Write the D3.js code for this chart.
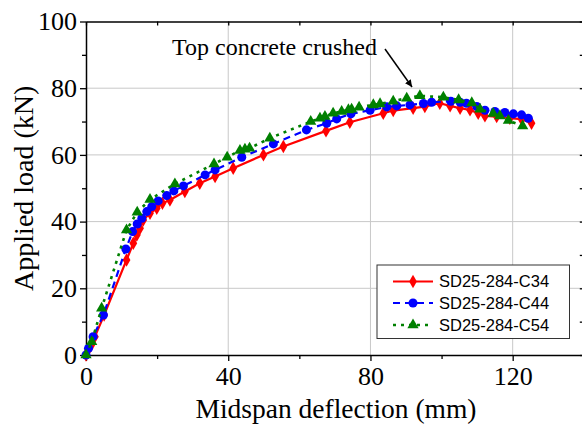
<!DOCTYPE html>
<html>
<head>
<meta charset="utf-8">
<script src="https://cdn.jsdelivr.net/npm/d3@7"></script>
<style>
html,body{margin:0;padding:0;background:#fff;}
svg{display:block;}
</style>
</head>
<body>
<svg id="chart" width="582" height="427"></svg>
<script>
// ---- data ----
const seriesNames = ["SD25-284-C34", "SD25-284-C44", "SD25-284-C54"];
const xTicks = [0, 40, 80, 120];
const yTicks = [0, 20, 40, 60, 80, 100];
const annotationText = "Top concrete crushed";
const xTitle = "Midspan deflection (mm)";
const yTitle = "Applied load (kN)";

const c34 = [[0,0],[0.6,1.5],[1.5,3],[2.5,5.5],[5.1,12],[11.4,28.5],[13.3,33.5],[14.3,36],[15.2,38],[16.1,40.5],[18,42.5],[19.9,44],[21.5,45.5],[23.6,46.5],[27.8,49],[32,51.5],[36.3,53.5],[41.4,56],[49.9,60],[55.5,62.5],[67.5,67.2],[74.2,69.8],[83.6,72.5],[86.4,73.3],[92,74],[95.3,74.5],[99.5,75.5],[102.4,74.7],[105.2,74],[108,73.5],[110.3,72.5],[112.2,71.7],[115.5,71.5],[119.2,71],[122.5,70.7],[125.3,69.5]];
const c44 = [[0,0],[0.7,2],[2,5.5],[4.9,12],[11.2,31.8],[13.1,37],[14.4,39.3],[15.7,41],[17.1,43],[18.5,44.5],[20.3,46.2],[22.7,47.8],[24.7,49.2],[27.4,50.7],[33.5,54],[36.3,55.5],[43.8,59.3],[52.7,63.3],[62,67.5],[67.7,69.5],[70.5,70.8],[74.5,72.3],[79.9,73.4],[84.6,74.4],[87.4,74.7],[91.1,75],[94.9,75.4],[97.2,75.8],[102.6,76.1],[105.2,75.8],[107,75.5],[109.9,74.5],[112.2,73.4],[115,73],[117.8,72.7],[120.2,72.3],[122.5,72],[124.4,71]];
const c54 = [[0,0],[1.6,4],[4.4,14],[11.4,37.5],[14.4,42.8],[18,46.6],[25,51.3],[36,57.3],[39.7,59.3],[43.3,61.3],[44.7,61.7],[46,62],[51.7,65],[63.2,70],[65.8,71],[67.2,71.5],[69.5,72.5],[71.9,73],[73.8,73.5],[74.7,73.7],[76.8,74.3],[80.8,75],[82.7,75.3],[86.4,76.1],[90.2,77],[93.9,77.7],[100.5,77.3],[104.8,76.5],[108.5,75.6],[110.8,73.7],[114.5,72.4],[116.4,71.7],[118.8,70.3],[122.8,68.7]];

// ---- styles ----
const seriesStyle = [
  {data: c34, color: "#ff0000", dash: null, width: 2.2, sym: d3.symbolDiamond, size: 52},
  {data: c44, color: "#0000ff", dash: "7,5", width: 2.2, sym: d3.symbolCircle, size: 64},
  {data: c54, color: "#008000", dash: "3,5", width: 2.6, sym: d3.symbolTriangle, size: 55}
];

const svg = d3.select("#chart");
const L = 86, R = 583.8, T = 21.5, B = 355;
const x = d3.scaleLinear().domain([0, 140]).range([L, R]);
const y = d3.scaleLinear().domain([0, 100]).range([B, T]);
const serif = "'Liberation Serif','Times New Roman',Times,serif";
const sans = "'Liberation Sans',Arial,Helvetica,sans-serif";

// gridlines
const g = svg.append("g");
g.selectAll("line.gx").data([40, 80, 120]).enter().append("line")
  .attr("x1", d => x(d)).attr("x2", d => x(d)).attr("y1", T).attr("y2", B)
  .attr("stroke", "#c8c8c8").attr("stroke-width", 1);
g.selectAll("line.gy").data([20, 40, 60, 80]).enter().append("line")
  .attr("y1", d => y(d)).attr("y2", d => y(d)).attr("x1", L).attr("x2", R)
  .attr("stroke", "#c8c8c8").attr("stroke-width", 1);

// axes
const xMinor = d3.range(20, 141, 40);
const yMinor = d3.range(10, 100, 20);

function styleAxis(sel) {
  sel.select(".domain").attr("stroke", "#000").attr("stroke-width", 1.5);
  sel.selectAll(".tick line").attr("stroke", "#000").attr("stroke-width", 1.3);
}

const xAxis = svg.append("g").attr("transform", `translate(0,${B})`)
  .call(d3.axisBottom(x).tickValues(xTicks).tickSize(6).tickSizeOuter(0).tickPadding(6).tickFormat(d3.format("d")));
styleAxis(xAxis);
xAxis.selectAll("text").attr("font-family", serif).attr("font-size", 26).attr("fill", "#000");
svg.append("g").attr("transform", `translate(0,${B})`)
  .call(d3.axisBottom(x).tickValues(xMinor).tickSize(4).tickSizeOuter(0).tickFormat(""))
  .call(s => { s.select(".domain").remove(); s.selectAll(".tick line").attr("stroke", "#000").attr("stroke-width", 1.3); });

const yAxis = svg.append("g").attr("transform", `translate(${L},0)`)
  .call(d3.axisLeft(y).tickValues(yTicks).tickSize(6).tickSizeOuter(0).tickPadding(3).tickFormat(d3.format("d")));
styleAxis(yAxis);
yAxis.selectAll("text").attr("font-family", serif).attr("font-size", 26).attr("fill", "#000");
svg.append("g").attr("transform", `translate(${L},0)`)
  .call(d3.axisLeft(y).tickValues(yMinor).tickSize(4).tickSizeOuter(0).tickFormat(""))
  .call(s => { s.select(".domain").remove(); s.selectAll(".tick line").attr("stroke", "#000").attr("stroke-width", 1.3); });

// top & right mirror axes (inward ticks)
const topAxis = svg.append("g").attr("transform", `translate(0,${T})`)
  .call(d3.axisBottom(x).tickValues(d3.range(0, 141, 20)).tickSize(4).tickSizeOuter(0).tickFormat(""));
styleAxis(topAxis);
const rightAxis = svg.append("g").attr("transform", `translate(${R},0)`)
  .call(d3.axisLeft(y).tickValues(d3.range(0, 101, 10)).tickSize(4).tickSizeOuter(0).tickFormat(""));
styleAxis(rightAxis);

// series
const line = d3.line().x(d => x(d[0])).y(d => y(d[1]));
seriesStyle.forEach(s => {
  svg.append("path").datum(s.data)
    .attr("d", line).attr("fill", "none")
    .attr("stroke", s.color).attr("stroke-width", s.width)
    .attr("stroke-dasharray", s.dash).attr("stroke-linejoin", "round");
  svg.append("g").selectAll("path").data(s.data).enter().append("path")
    .attr("d", d3.symbol().type(s.sym).size(s.size))
    .attr("transform", d => `translate(${x(d[0])},${y(d[1])})`)
    .attr("fill", s.color);
});

// annotation
svg.append("text").attr("x", 172).attr("y", 55)
  .attr("font-family", serif).attr("font-size", 24).attr("fill", "#000")
  .text(annotationText);
const defs = svg.append("defs");
defs.append("marker").attr("id", "ah").attr("viewBox", "0 0 10 10")
  .attr("refX", 10).attr("refY", 5).attr("markerWidth", 7).attr("markerHeight", 7)
  .attr("markerUnits", "userSpaceOnUse").attr("orient", "auto")
  .append("path").attr("d", "M0,0 L10,5 L0,10 z").attr("fill", "#000");
svg.append("line").attr("x1", 385).attr("y1", 49).attr("x2", 412).attr("y2", 87)
  .attr("stroke", "#000").attr("stroke-width", 1.5).attr("marker-end", "url(#ah)");

// legend
const lg = svg.append("g");
lg.append("rect").attr("x", 377).attr("y", 265).attr("width", 192.5).attr("height", 73.5)
  .attr("fill", "#fff").attr("stroke", "#333").attr("stroke-width", 1);
const lgY = [281.5, 303, 325];
seriesStyle.forEach((s, i) => {
  lg.append("line").attr("x1", 393).attr("x2", 433).attr("y1", lgY[i]).attr("y2", lgY[i])
    .attr("stroke", s.color).attr("stroke-width", s.width).attr("stroke-dasharray", s.dash);
  lg.append("path").attr("d", d3.symbol().type(s.sym).size(s.size))
    .attr("transform", `translate(413,${lgY[i]})`).attr("fill", s.color);
  lg.append("text").attr("x", 439).attr("y", lgY[i]).attr("dy", "0.36em")
    .attr("font-family", sans).attr("font-size", 16.5).attr("fill", "#000")
    .text(seriesNames[i]);
});

// axis titles
svg.append("text").attr("x", 336).attr("y", 418).attr("text-anchor", "middle")
  .attr("font-family", serif).attr("font-size", 27.5).attr("fill", "#000").text(xTitle);
svg.append("text").attr("transform", `translate(33,${(T + B) / 2}) rotate(-90)`)
  .attr("text-anchor", "middle")
  .attr("font-family", serif).attr("font-size", 28).attr("fill", "#000").text(yTitle);
</script>
</body>
</html>
